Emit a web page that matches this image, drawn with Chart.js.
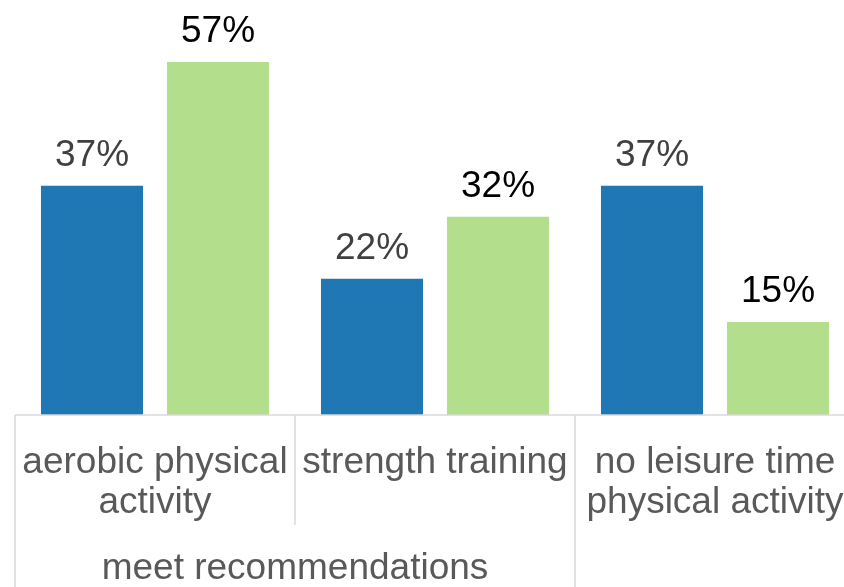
<!DOCTYPE html>
<html>
<head>
<meta charset="utf-8">
<script src="https://cdn.jsdelivr.net/npm/chart.js@4/dist/chart.umd.min.js"></script>
<style>
  html, body { margin: 0; padding: 0; overflow: hidden; background: #fff; }
  #wrap { position: absolute; left: 0; top: 0; width: 870px; height: 587px; }
</style>
</head>
<body>
<div id="wrap"><canvas id="c" width="870" height="587"></canvas></div>
<script>
// categories (multi-line) and the group label that spans the first two
const categories = [["aerobic physical", "activity"], ["strength training"], ["no leisure time", "physical activity"]];
const groupLabel = "meet recommendations";
const groupSpan = [0, 1];

const seriesBlue = [37, 22, 37];
const seriesGreen = [57, 32, 15];

const FONT = '"Liberation Sans", Arial, Helvetica, sans-serif';

// value labels above bars + the category axis drawn by hand
const axisPlugin = {
  id: 'axisLabels',
  afterDatasetsDraw(chart) {
    const ctx = chart.ctx;
    ctx.save();
    ctx.font = '37px ' + FONT;
    ctx.textAlign = 'center';
    ctx.textBaseline = 'alphabetic';
    chart.data.datasets.forEach((ds, di) => {
      const meta = chart.getDatasetMeta(di);
      meta.data.forEach((bar, i) => {
        ctx.fillStyle = ds.labelColor;
        ctx.fillText(ds.data[i] + '%', bar.x, bar.y - 20);
      });
    });
    ctx.restore();
  },
  afterDraw(chart) {
    const ctx = chart.ctx;
    const x = chart.scales.x;
    const area = chart.chartArea;
    const half = (x.getPixelForValue(1) - x.getPixelForValue(0)) / 2;
    const H = chart.height;

    ctx.save();
    ctx.strokeStyle = '#d9d9d9';
    ctx.lineWidth = 1.5;
    // axis line
    ctx.beginPath();
    ctx.moveTo(area.left, area.bottom);
    ctx.lineTo(area.right, area.bottom);
    ctx.stroke();

    // category separators
    for (let i = 0; i <= categories.length; i++) {
      const px = x.getPixelForValue(0) - half + i * 2 * half;
      const inner = i > groupSpan[0] && i <= groupSpan[1];
      ctx.beginPath();
      ctx.moveTo(px, area.bottom);
      ctx.lineTo(px, inner ? area.bottom + 110 : H);
      ctx.stroke();
    }

    ctx.fillStyle = '#595959';
    ctx.font = '37px ' + FONT;
    ctx.textAlign = 'center';
    ctx.textBaseline = 'alphabetic';
    categories.forEach((lines, i) => {
      const cx = x.getPixelForValue(i);
      lines.forEach((t, j) => {
        ctx.fillText(t, cx, area.bottom + 58 + j * 40);
      });
    });
    const gx = (x.getPixelForValue(groupSpan[0]) + x.getPixelForValue(groupSpan[1])) / 2;
    ctx.fillText(groupLabel, gx, area.bottom + 164);
    ctx.restore();
  }
};

new Chart(document.getElementById('c'), {
  type: 'bar',
  data: {
    labels: categories,
    datasets: [
      { label: 'blue', data: seriesBlue, backgroundColor: '#1f77b4', labelColor: '#404040' },
      { label: 'green', data: seriesGreen, backgroundColor: '#b3de8b', labelColor: '#000000' }
    ]
  },
  options: {
    responsive: false,
    devicePixelRatio: 1,
    animation: false,
    categoryPercentage: 0.9,
    barPercentage: 0.81,
    layout: { padding: { left: 15, right: 15, top: 62, bottom: 172 } },
    plugins: { legend: { display: false }, tooltip: { enabled: false } },
    scales: {
      x: { display: false },
      y: { display: false, min: 0, max: 57 }
    }
  },
  plugins: [axisPlugin]
});
</script>
</body>
</html>
